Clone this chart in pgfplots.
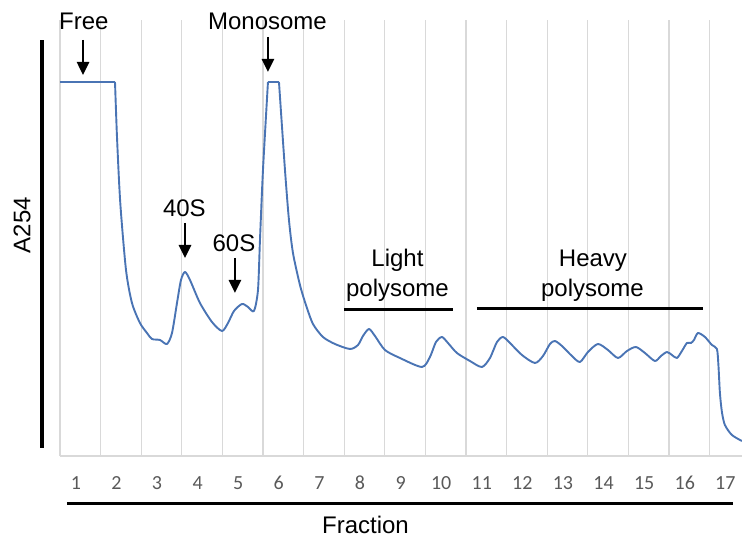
\documentclass[border=0pt]{standalone}
\usepackage{fontspec}
\setmainfont{Liberation Sans}
\newfontfamily\carlito{Carlito}
\usepackage{pgfplots}
\pgfplotsset{compat=1.18}
\usetikzlibrary{arrows.meta}
\definecolor{trace}{HTML}{4A74B4}
\definecolor{gridc}{HTML}{D9D9D9}
\definecolor{tickc}{HTML}{595959}

\begin{document}
\begin{tikzpicture}
\begin{axis}[scale only axis,width=682pt,height=436pt,
 xmin=0,xmax=16.8,ymin=0,ymax=436,
 axis x line*=bottom,axis y line=none,x axis line style={-,draw=gridc,line width=1.2pt},
 xtick={0.39,1.39,2.39,3.39,4.39,5.39,6.39,7.39,8.39,9.39,10.39,11.39,12.39,13.39,14.39,15.39,16.39},
 xticklabels={1,2,3,4,5,6,7,8,9,10,11,12,13,14,15,16,17},
 minor xtick={0,1,2,3,4,5,6,7,8,9,10,11,12,13,14,15,16},
 major tick length=0pt,minor tick length=0pt,
 minor x grid style={draw=gridc,line width=1.2pt},xminorgrids=true,
 xticklabel style={font=\carlito\fontsize{20}{24}\selectfont,text=tickc,anchor=center,yshift=-27pt},
 every axis plot/.append style={trace,line width=1.9pt,line join=round,mark=none},
 clip=false]
% flat (saturated) parts
\addplot[sharp plot] coordinates {(0,374) (1.355,374)};
\addplot[sharp plot] coordinates {(5.123,374) (5.394,374)};
% free -> monosome
\addplot[smooth,tension=0.45] coordinates {
(1.355,374) (1.404,319) (1.485,253) (1.626,186) (1.773,153) (1.970,133) (2.143,123)
(2.266,117) (2.463,116) (2.635,112) (2.759,123) (2.882,153) (2.980,176) (3.079,184) (3.202,176)
(3.448,153) (3.744,134) (3.990,125) (4.138,133) (4.286,145) (4.483,152) (4.631,149) (4.778,145)
(4.877,166) (4.926,216) (5.0,286) (5.123,374)};
% monosome -> end
\addplot[smooth,tension=0.45] coordinates {
(5.394,374) (5.542,286) (5.640,236) (5.739,203)
(5.911,171) (6.059,151) (6.232,132) (6.478,119) (6.773,112) (7.143,107) (7.340,111) (7.463,120)
(7.611,127) (7.759,120) (8.005,106) (8.374,98) (8.916,89) (9.113,99) (9.261,114) (9.409,119)
(9.557,113) (9.778,103) (10.099,95) (10.394,89) (10.591,98) (10.764,114) (10.911,119) (11.084,113)
(11.379,101) (11.700,93) (11.897,100) (12.069,112) (12.192,115) (12.365,110) (12.611,100) (12.808,94)
(13.005,104) (13.251,112) (13.498,106) (13.744,98) (13.966,105) (14.187,109) (14.409,103) (14.655,95)
(14.803,100) (14.951,104) (15.074,101) (15.197,98) (15.320,105) (15.443,113) (15.542,113) (15.616,116)
(15.714,123) (15.887,119) (16.059,111) (16.182,107) (16.219,91) (16.256,63) (16.305,44) (16.379,31)
(16.552,21) (16.798,15)};
% labels and arrows
\begin{scope}[font=\fontsize{24}{28}\selectfont]
\node[anchor=base] at (axis cs:0.586,426) {Free};
\node[anchor=base] at (axis cs:5.111,426) {Monosome};
\node[anchor=base] at (axis cs:3.064,239.3) {40S};
\node[anchor=base] at (axis cs:4.286,204.3) {60S};
\node[anchor=base] at (axis cs:8.313,189.3) {Light};
\node[anchor=base] at (axis cs:8.313,159.3) {polysome};
\node[anchor=base] at (axis cs:13.128,189.3) {Heavy};
\node[anchor=base] at (axis cs:13.116,159.3) {polysome};
\node[rotate=90] at (axis cs:-0.936,231) {A254};
\node[anchor=base,inner sep=0pt] at (axis cs:7.525,-77.5) {Fraction};
\end{scope}
\begin{scope}[line width=2.6pt,-{Triangle[width=12pt,length=13pt]}]
\draw (axis cs:0.567,416) -- (axis cs:0.567,381);
\draw (axis cs:5.123,419) -- (axis cs:5.123,384);
\draw (axis cs:3.079,233) -- (axis cs:3.079,198);
\draw (axis cs:4.310,198) -- (axis cs:4.310,163);
\end{scope}
\draw[line width=3pt] (axis cs:6.995,146) -- (axis cs:9.680,146);
\draw[line width=3pt] (axis cs:10.271,147) -- (axis cs:15.837,147);
\draw[line width=3.5pt] (axis cs:-0.443,8) -- (axis cs:-0.443,416);
\draw[line width=3pt] (axis cs:0.172,-48) -- (axis cs:16.576,-48);
\end{axis}
\pgfresetboundingbox
\path[use as bounding box] (-60pt,-82pt) rectangle (682pt,456pt);
\end{tikzpicture}
\end{document}
